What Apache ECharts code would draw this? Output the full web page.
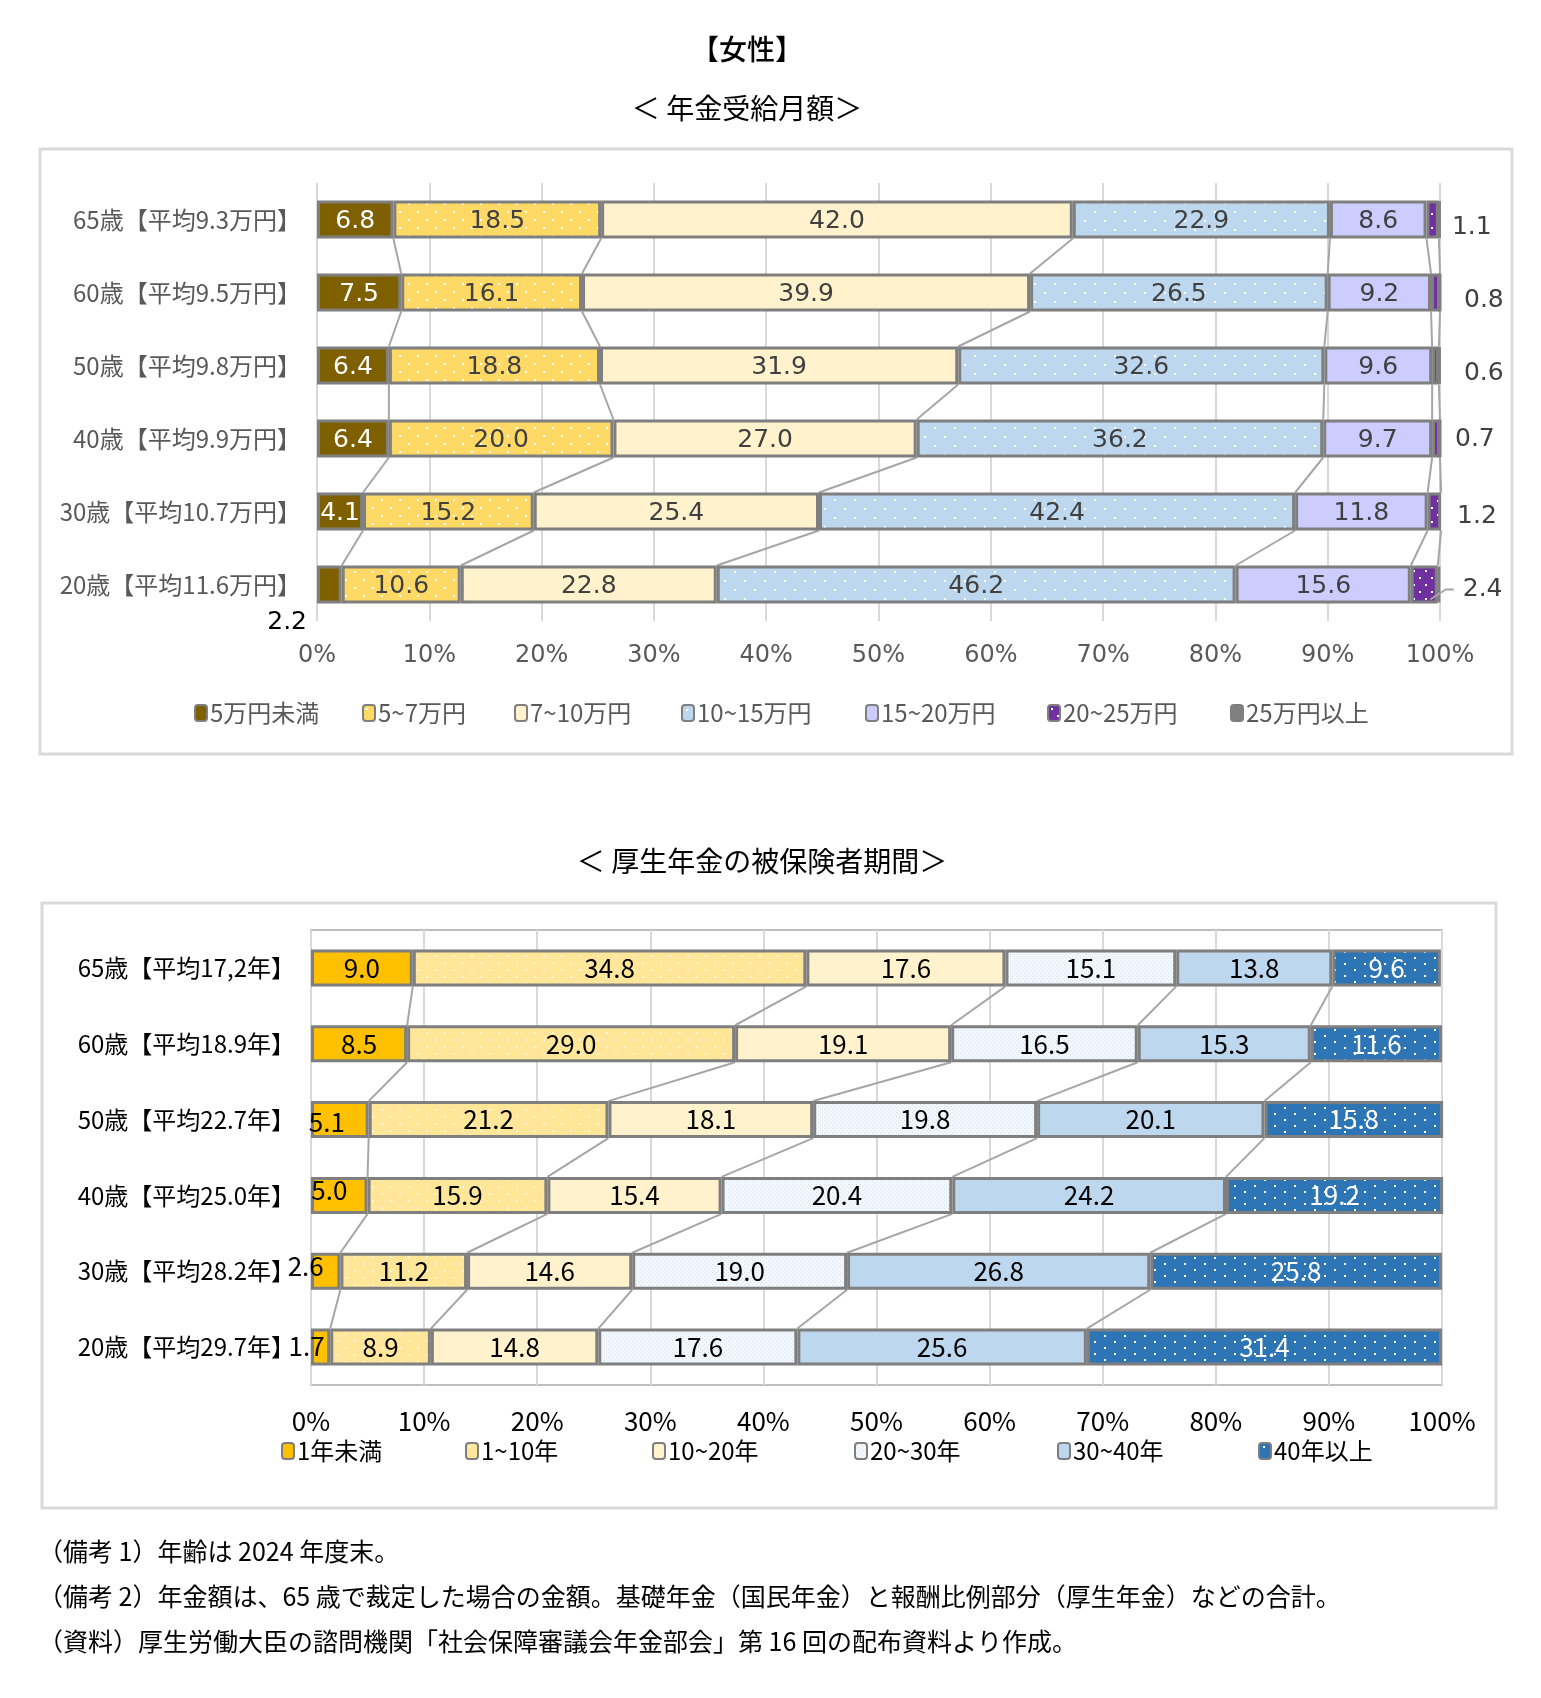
<!DOCTYPE html>
<html><head><meta charset="utf-8">
<script src="https://cdn.jsdelivr.net/npm/echarts@6/dist/echarts.min.js"></script>
<style>html,body{margin:0;padding:0;background:#fff}#c{width:1541px;height:1698px}</style>
</head><body><div id="c"></div>
<script>
// ---------- data ----------
const ageTop = ['65歳【平均9.3万円】','60歳【平均9.5万円】','50歳【平均9.8万円】','40歳【平均9.9万円】','30歳【平均10.7万円】','20歳【平均11.6万円】'];
const amountBands = ['5万円未満','5~7万円','7~10万円','10~15万円','15~20万円','20~25万円','25万円以上'];
const amtUnder5 = [6.8, 7.5, 6.4, 6.4, 4.1, 2.2];
const amt5to7   = [18.5, 16.1, 18.8, 20.0, 15.2, 10.6];
const amt7to10  = [42.0, 39.9, 31.9, 27.0, 25.4, 22.8];
const amt10to15 = [22.9, 26.5, 32.6, 36.2, 42.4, 46.2];
const amt15to20 = [8.6, 9.2, 9.6, 9.7, 11.8, 15.6];
const amt20to25 = [1.1, 0.8, 0.6, 0.7, 1.2, 2.4];
const amt25plus = [0.1, 0.0, 0.1, 0.0, 0.0, 0.2];

const ageBottom = ['65歳【平均17,2年】','60歳【平均18.9年】','50歳【平均22.7年】','40歳【平均25.0年】','30歳【平均28.2年】','20歳【平均29.7年】'];
const periodBands = ['1年未満','1~10年','10~20年','20~30年','30~40年','40年以上'];
const perUnder1 = [9.0, 8.5, 5.1, 5.0, 2.6, 1.7];
const per1to10  = [34.8, 29.0, 21.2, 15.9, 11.2, 8.9];
const per10to20 = [17.6, 19.1, 18.1, 15.4, 14.6, 14.8];
const per20to30 = [15.1, 16.5, 19.8, 20.4, 19.0, 17.6];
const per30to40 = [13.8, 15.3, 20.1, 24.2, 26.8, 25.6];
const per40plus = [9.6, 11.6, 15.8, 19.2, 25.8, 31.4];

const xTicks = [0,10,20,30,40,50,60,70,80,90,100];

const titleMain = '【女性】';
const titleTop = '＜ 年金受給月額＞';
const titleBottom = '＜ 厚生年金の被保険者期間＞';
const notes = [
  '（備考 1）年齢は 2024 年度末。',
  '（備考 2）年金額は、65 歳で裁定した場合の金額。基礎年金（国民年金）と報酬比例部分（厚生年金）などの合計。',
  '（資料）厚生労働大臣の諮問機関「社会保障審議会年金部会」第 16 回の配布資料より作成。'
];

// ---------- styles ----------
const CJK = '"Noto Sans CJK JP", sans-serif';
const NUM = '"DejaVu Sans", sans-serif';
const BAR_TOP = 38, BAR_BOT = 37;

function pattern(bg, dot, w, h, pts, s) {
  const c = document.createElement('canvas'); c.width = w; c.height = h;
  const g = c.getContext('2d'); g.fillStyle = bg; g.fillRect(0, 0, w, h);
  g.fillStyle = dot; pts.forEach(p => g.fillRect(p[0], p[1], s, s));
  return { image: c, repeat: 'repeat' };
}

const topColors = [
  '#7F6000',
  pattern('#FFD966', '#FFFFFF', 18, 16, [[3,3],[12,11]], 2),
  '#FFF2CC',
  pattern('#BDD7EE', '#FFFFFF', 20, 18, [[4,4],[14,13]], 2),
  '#CCCCFF',
  pattern('#7030A0', '#FFFFFF', 12, 14, [[3,3],[9,10]], 2),
  '#808080'
];
const botColors = [
  '#FFC000',
  pattern('#FFE699', '#FFF6DA', 18, 14, [[3,3],[12,10]], 2),
  '#FFF2CC',
  pattern('#F4F8FC', '#D3E0EF', 4, 4, [[0,0],[2,2]], 1),
  '#BDD7EE',
  pattern('#2E75B6', '#FFFFFF', 20, 12, [[4,3],[14,9]], 2)
];

const topCols = [amtUnder5, amt5to7, amt7to10, amt10to15, amt15to20, amt20to25, amt25plus];
const botCols = [perUnder1, per1to10, per10to20, per20to30, per30to40, per40plus];

// label placement tweaks (style only)
const topOuterOffsets = [[8,8],[19,8],[20,8],[10,1],[11,5],[20,5]];
const topLabelOverride = { 0: { 5: { position: [-10, 57], align: 'right', verticalAlign: 'middle', color: '#000', offset: [0, 0] } } };
const botLabelOverride = { 0: { 2: { offset: [-13, 3] }, 3: { offset: [-10, -5] }, 4: { offset: [-20, -5] }, 5: { offset: [-14, -1] } } };
const leaderRows = [5];

function buildData(vals, overrides) {
  return vals.map((v, i) => (overrides && overrides[i]) ? { value: v, label: overrides[i] } : v);
}
function fmt(p) { const v = typeof p.value === 'object' ? p.value.value : p.value; return Number(v).toFixed(1); }

function seriesLinesData(cols) {
  const rows = cols[0].length, out = [];
  for (let k = 0; k < rows - 1; k++) {
    let a = 0, b = 0;
    for (let j = 0; j < cols.length - 1; j++) { a += cols[j][k]; b += cols[j][k + 1]; out.push([a, k, b]); }
  }
  return out;
}
function linesRenderer(half) {
  return function (params, api) {
    const p1 = api.coord([api.value(0), api.value(1)]);
    const p2 = api.coord([api.value(2), api.value(1) + 1]);
    return { type: 'line', shape: { x1: p1[0], y1: p1[1] + half, x2: p2[0], y2: p2[1] - half },
             style: { stroke: '#A6A6A6', lineWidth: 2 } };
  };
}
// leader line data for the 20~25万円 label: [segment middle, segment end, row]
const leaderData = leaderRows.map(r => {
  let s = 0; for (let j = 0; j < 5; j++) s += topCols[j][r];
  return [s + amt20to25[r] / 2, s + amt20to25[r], r];
});

const series = [];
topCols.forEach((col, j) => {
  let data;
  if (j === 5) data = col.map((v, i) => ({ value: v, label: { offset: topOuterOffsets[i] } }));
  else data = buildData(col, topLabelOverride[j]);
  series.push({
    type: 'bar', name: amountBands[j], stack: 'top', xAxisIndex: 0, yAxisIndex: 0,
    barWidth: BAR_TOP, data: data,
    itemStyle: { color: topColors[j], borderColor: '#7F7F7F', borderWidth: 3 },
    label: {
      show: j !== 6, position: j === 5 ? 'right' : 'inside', formatter: fmt,
      fontFamily: NUM, fontSize: 25, color: j === 0 ? '#FFFFFF' : '#404040',
      textBorderWidth: 0, offset: [0, 2]
    },
    emphasis: { disabled: true }, z: 3
  });
});
series.push({
  type: 'custom', name: 'lines-top', xAxisIndex: 0, yAxisIndex: 0, silent: true,
  data: seriesLinesData(topCols), encode: { x: [0, 2], y: 1 },
  renderItem: linesRenderer(BAR_TOP / 2), z: 2
});
series.push({
  type: 'custom', name: 'leader-top', xAxisIndex: 0, yAxisIndex: 0, silent: true,
  data: leaderData, encode: { x: [0, 1], y: 2 },
  renderItem: function (params, api) {
    const a = api.coord([api.value(0), api.value(2)]);
    const b = api.coord([api.value(1), api.value(2)]);
    return { type: 'polyline', shape: { points: [[a[0] + 6, a[1] + BAR_TOP / 2 - 4], [b[0] + 8, a[1] + 5], [b[0] + 16, a[1] + 5]] },
             style: { stroke: '#A6A6A6', lineWidth: 2, fill: 'none' } };
  }, z: 5
});
botCols.forEach((col, j) => {
  series.push({
    type: 'bar', name: periodBands[j], stack: 'bot', xAxisIndex: 1, yAxisIndex: 1,
    barWidth: BAR_BOT, data: buildData(col, botLabelOverride[j]),
    itemStyle: { color: botColors[j], borderColor: '#7F7F7F', borderWidth: 3 },
    label: {
      show: true, position: 'inside', formatter: fmt,
      fontFamily: CJK, fontSize: 26, color: j === 5 ? '#FFFFFF' : '#000000',
      textBorderWidth: 0
    },
    emphasis: { disabled: true }, z: 3
  });
});
series.push({
  type: 'custom', name: 'lines-bot', xAxisIndex: 1, yAxisIndex: 1, silent: true,
  data: seriesLinesData(botCols), encode: { x: [0, 2], y: 1 },
  renderItem: linesRenderer(BAR_BOT / 2), z: 2
});

const topLegendX = [189, 357, 509, 676, 860, 1042, 1225];
const botLegendX = [276, 460, 647, 849, 1052, 1253];
const legends = [];
amountBands.forEach((n, i) => legends.push({
  data: [n], left: topLegendX[i], top: 696, itemWidth: 12, itemHeight: 16, itemGap: 0,
  textStyle: { fontFamily: CJK, fontSize: 24, color: '#595959', padding: [0, 0, 0, -2] },
  itemStyle: { borderWidth: 2, borderColor: '#7F7F7F' }, selectedMode: false
}));
periodBands.forEach((n, i) => legends.push({
  data: [n], left: botLegendX[i], top: 1434, itemWidth: 12, itemHeight: 16, itemGap: 0,
  textStyle: { fontFamily: CJK, fontSize: 24, color: '#000000', padding: [0, 0, 0, -2] },
  itemStyle: { borderWidth: 2, borderColor: '#7F7F7F' }, selectedMode: false
}));

const graphics = [
  { type: 'rect', shape: { x: 40, y: 149, width: 1472, height: 605 }, style: { fill: 'none', stroke: '#D9D9D9', lineWidth: 3 }, z: 0 },
  { type: 'rect', shape: { x: 42, y: 903, width: 1454, height: 605 }, style: { fill: 'none', stroke: '#D9D9D9', lineWidth: 3 }, z: 0 },
  { type: 'text', x: 747, y: 49, style: { text: titleMain, fontFamily: CJK, fontSize: 28, fontWeight: 500, fill: '#000', align: 'center', verticalAlign: 'middle' } },
  { type: 'text', x: 747, y: 108, style: { text: titleTop, fontFamily: CJK, fontSize: 28, fill: '#000', align: 'center', verticalAlign: 'middle' } },
  { type: 'text', x: 762, y: 861, style: { text: titleBottom, fontFamily: CJK, fontSize: 28, fill: '#000', align: 'center', verticalAlign: 'middle' } }
];
const noteY = [1551, 1596, 1641];
notes.forEach((t, i) => graphics.push({ type: 'text', x: 38, y: noteY[i],
  style: { text: t, fontFamily: CJK, fontSize: 25, fill: '#000', align: 'left', verticalAlign: 'middle' } }));

const chart = echarts.init(document.getElementById('c'), null, { renderer: 'canvas' });
chart.setOption({
  animation: false,
  backgroundColor: '#FFFFFF',
  grid: [
    { left: 317, right: 101, top: 183, height: 438, show: false },
    { left: 311, right: 99, top: 930, height: 455, show: true, borderColor: '#BFBFBF', borderWidth: 2, backgroundColor: 'transparent' }
  ],
  xAxis: [
    { type: 'value', gridIndex: 0, min: xTicks[0], max: xTicks[xTicks.length - 1], interval: xTicks[1] - xTicks[0],
      axisLine: { show: false }, axisTick: { show: false },
      splitLine: { show: true, lineStyle: { color: '#D9D9D9', width: 2 } },
      axisLabel: { formatter: v => v + '%', fontFamily: NUM, fontSize: 24, color: '#595959', margin: 23 } },
    { type: 'value', gridIndex: 1, min: xTicks[0], max: xTicks[xTicks.length - 1], interval: xTicks[1] - xTicks[0],
      axisLine: { show: false }, axisTick: { show: false },
      splitLine: { show: true, lineStyle: { color: '#D9D9D9', width: 2 } },
      axisLabel: { formatter: v => v + '%', fontFamily: CJK, fontSize: 26, color: '#000', margin: 23 } }
  ],
  yAxis: [
    { type: 'category', gridIndex: 0, data: ageTop, inverse: true,
      axisLine: { show: false }, axisTick: { show: false },
      axisLabel: { fontFamily: CJK, fontSize: 24, color: '#595959', margin: 16 } },
    { type: 'category', gridIndex: 1, data: ageBottom, inverse: true,
      axisLine: { show: false }, axisTick: { show: false },
      axisLabel: { fontFamily: CJK, fontSize: 24, color: '#000', margin: 16 } }
  ],
  legend: legends,
  graphic: graphics,
  series: series
});
</script></body></html>
